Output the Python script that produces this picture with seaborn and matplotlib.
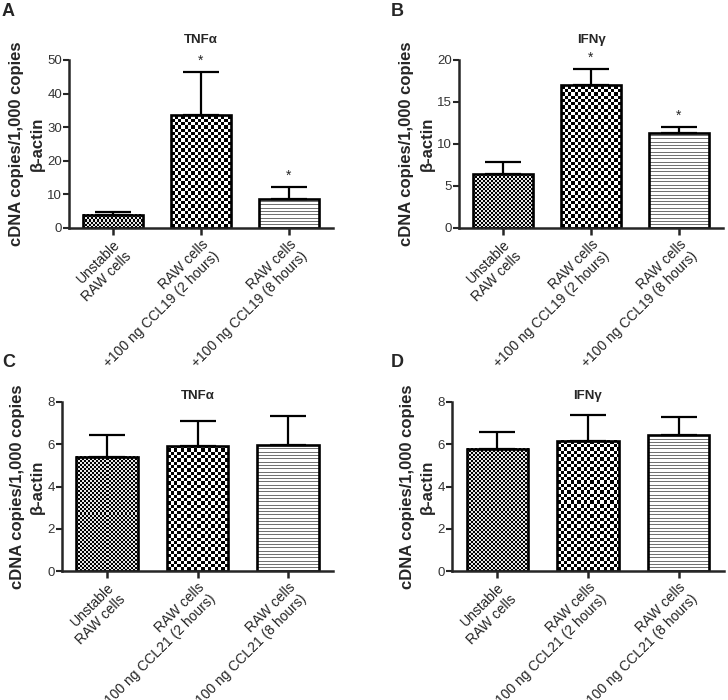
import numpy as np
import matplotlib
matplotlib.use("Agg")
from matplotlib import pyplot as plt
import seaborn as sns


# ---- Data --------------------------------------------------------------------

labels_ccl19 = ["Unstable\nRAW cells",
                "RAW cells\n+100 ng CCL19 (2 hours)",
                "RAW cells\n+100 ng CCL19 (8 hours)"]
labels_ccl21 = ["Unstable\nRAW cells",
                "RAW cells\n+100 ng CCL21 (2 hours)",
                "RAW cells\n+100 ng CCL21 (8 hours)"]

tnf_ccl19 = [3.9, 33.6, 8.5]
tnf_ccl19_err = [0.95, 12.7, 3.6]
tnf_ccl19_star = [False, True, True]

ifn_ccl19 = [6.4, 17.0, 11.3]
ifn_ccl19_err = [1.4, 1.9, 0.75]
ifn_ccl19_star = [False, True, True]

tnf_ccl21 = [5.4, 5.9, 5.96]
tnf_ccl21_err = [1.02, 1.18, 1.39]

ifn_ccl21 = [5.78, 6.16, 6.43]
ifn_ccl21_err = [0.81, 1.22, 0.84]

y_label = "cDNA copies/1,000 copies\nβ-actin"


# ---- Style -------------------------------------------------------------------

sns.set_style("ticks")
plt.rcParams["font.family"] = ["Liberation Sans", "DejaVu Sans"]
plt.rcParams["axes.linewidth"] = 1.8


# ---- Helpers -----------------------------------------------------------------

def fill_pattern(ax, patch, kind):
    bb = patch.get_window_extent()
    w, h = max(int(round(bb.width)), 1), max(int(round(bb.height)), 1)
    yy, xx = np.mgrid[0:h, 0:w].astype(float)
    if kind == "fine":
        img = ((np.floor(xx / 2) + np.floor(yy / 2)) % 2) * 0.9
    elif kind == "coarse":
        img = ((np.floor(xx / 3.3) + np.floor(yy / 3.3)) % 2) * 1.0
    else:
        line = np.floor(yy / 3.3) != np.floor((yy + 1) / 3.3)
        img = np.where(line, 0.45, 1.0)
    x0, y0 = patch.get_x(), patch.get_y()
    extent = [x0, x0 + patch.get_width(), y0, y0 + patch.get_height()]
    ax.imshow(img, cmap="gray", vmin=0, vmax=1, extent=extent, origin="lower",
              aspect="auto", interpolation="nearest", clip_path=patch,
              zorder=patch.get_zorder() - 0.05)
    patch.set_facecolor("none")


def draw_panel(ax, labels, vals, errs, stars, ymax, ystep, title, title_pad):
    sns.barplot(x=labels, y=vals, ax=ax, width=0.68, color="white",
                edgecolor="black", linewidth=1.9, saturation=1)
    ax.errorbar(range(len(vals)), vals, yerr=[np.zeros(len(vals)), errs],
                fmt="none", ecolor="black", elinewidth=1.6, capsize=13,
                capthick=1.6, zorder=3)

    ax.set_xlim(-0.5, 2.5)
    ax.set_ylim(0, ymax)
    ax.set_yticks(np.arange(0, ymax + 0.01, ystep))
    ax.yaxis.set_major_formatter(plt.FormatStrFormatter("%d"))

    for patch, kind in zip(ax.patches, ["fine", "coarse", "lines"]):
        fill_pattern(ax, patch, kind)

    if stars is not None:
        for i, (v, e, s) in enumerate(zip(vals, errs, stars)):
            if s:
                ax.annotate("*", (i, v + e), xytext=(0, 3), textcoords="offset points",
                            ha="center", va="bottom", fontsize=10)

    ax.set_xticks(range(len(labels)))
    ax.set_xticklabels(labels, rotation=45, ha="right", va="top",
                       rotation_mode="anchor", ma="right", fontsize=10,
                       color="#222222")
    ax.tick_params(axis="x", length=5, width=1.8, pad=2)
    ax.tick_params(axis="y", length=4, width=1.5, labelsize=9.5, labelcolor="#333333", pad=1)
    ax.set_ylabel(y_label, fontsize=12, fontweight="bold", linespacing=1.45, labelpad=2)
    ax.set_title(title, fontsize=9.5, fontweight="bold", pad=title_pad)
    sns.despine(ax=ax)


# ---- Figure ------------------------------------------------------------------

W, H = 728, 700
fig = plt.figure(figsize=(W / 100, H / 100), dpi=100)


def axes_px(left, right, top, bottom):
    return fig.add_axes([left / W, 1 - bottom / H, (right - left) / W, (bottom - top) / H])


ax_a = axes_px(69, 333, 60, 228)
ax_b = axes_px(459, 723, 60, 228)
ax_c = axes_px(62, 333, 402, 571)
ax_d = axes_px(452, 724, 402, 571)

draw_panel(ax_a, labels_ccl19, tnf_ccl19, tnf_ccl19_err, tnf_ccl19_star, 50, 10, "TNFα", 12)
draw_panel(ax_b, labels_ccl19, ifn_ccl19, ifn_ccl19_err, ifn_ccl19_star, 20, 5, "IFNγ", 12)
draw_panel(ax_c, labels_ccl21, tnf_ccl21, tnf_ccl21_err, None, 8, 2, "TNFα", 2)
draw_panel(ax_d, labels_ccl21, ifn_ccl21, ifn_ccl21_err, None, 8, 2, "IFNγ", 2)

for letter, (px, py) in zip("ABCD", [(2, 3), (391, 3), (2, 354), (391, 354)]):
    fig.text(px / W, 1 - py / H, letter, fontsize=13, fontweight="bold", va="top", ha="left")

fig.savefig("out.png", dpi=100)
